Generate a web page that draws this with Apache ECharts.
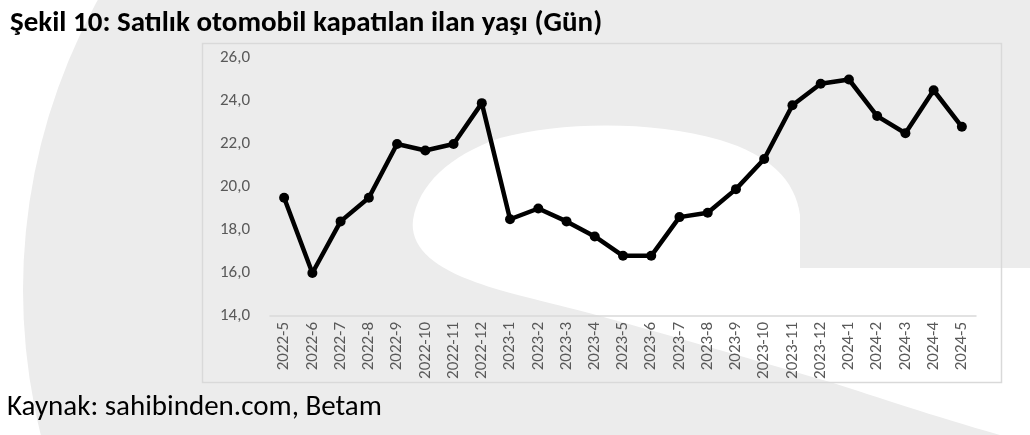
<!DOCTYPE html>
<html>
<head>
<meta charset="utf-8">
<script src="https://cdn.jsdelivr.net/npm/echarts@6/dist/echarts.min.js"></script>
<style>
html,body{margin:0;padding:0;background:#fff;}
#c{width:1030px;height:435px;}
</style>
</head>
<body>
<div id="c"></div>
<script>
var categories = ['2022-5','2022-6','2022-7','2022-8','2022-9','2022-10','2022-11','2022-12',
  '2023-1','2023-2','2023-3','2023-4','2023-5','2023-6','2023-7','2023-8','2023-9','2023-10','2023-11','2023-12',
  '2024-1','2024-2','2024-3','2024-4','2024-5'];
var values = [19.5,16.0,18.4,19.5,22.0,21.7,22.0,23.9,
  18.5,19.0,18.4,17.7,16.8,16.8,18.6,18.8,19.9,21.3,23.8,24.8,
  25.0,23.3,22.5,24.5,22.8];
var titleText = 'Şekil 10: Satılık otomobil kapatılan ilan yaşı (Gün)';
var sourceText = 'Kaynak: sahibinden.com, Betam';

// decorative watermark outline (sampled cubic curves)
function swooshPoints(){
  var segs = [
    [[1000,435],[930,415],[880,398],[830,382]],
    [[830,382],[720,350],[650,330],[600,316]],
    [[600,316],[540,300],[500,292],[470,280]],
    [[470,280],[430,265],[410,245],[413,220]],
    [[413,220],[418,185],[450,155],[500,138]],
    [[500,138],[560,122],[650,120],[720,140]],
    [[720,140],[770,155],[795,180],[800,215]]
  ];
  var pts = [[800,268],[1030,268],[1030,435]];
  segs.forEach(function(s){
    for(var i=0;i<=16;i++){
      var t=i/16, u=1-t;
      pts.push([
        u*u*u*s[0][0]+3*u*u*t*s[1][0]+3*u*t*t*s[2][0]+t*t*t*s[3][0],
        u*u*u*s[0][1]+3*u*u*t*s[1][1]+3*u*t*t*s[2][1]+t*t*t*s[3][1]
      ]);
    }
  });
  return pts;
}

var FONT = "Carlito, 'Liberation Sans Narrow', 'Open Sans', sans-serif";
var chart = echarts.init(document.getElementById('c'), null, {renderer:'canvas'});
chart.setOption({
  animation:false,
  backgroundColor:'#ffffff',
  graphic:[
    {type:'circle', z:-10, shape:{cx:623, cy:290, r:600}, style:{fill:'#ececec'}, silent:true},
    {type:'polygon', z:-9, silent:true, shape:{points:swooshPoints()}, style:{fill:'#ffffff'}},
    {type:'rect', z:-5, silent:true, shape:{x:202.5, y:43.5, width:799, height:339},
     style:{fill:'none', stroke:'#d9d9d9', lineWidth:1.5}},
    {type:'text', left:10, top:9, silent:true,
     style:{text:titleText, font:"bold 29px " + FONT, fill:'#000000'}},
    {type:'text', left:7, top:393, silent:true,
     style:{text:sourceText, font:"29px " + FONT, fill:'#000000'}}
  ],
  grid:{left:270, right:54, top:58, bottom:119, containLabel:false},
  xAxis:{
    type:'category', data:categories, boundaryGap:true,
    axisLine:{lineStyle:{color:'#d9d9d9', width:1.5}},
    axisTick:{show:false},
    axisLabel:{rotate:90, color:'#595959', fontSize:17, fontFamily:FONT, margin:6, interval:0}
  },
  yAxis:{
    type:'value', min:14, max:26, interval:2,
    axisLine:{show:false}, axisTick:{show:false}, splitLine:{show:false},
    axisLabel:{color:'#595959', fontSize:17, fontFamily:FONT, margin:20,
      formatter:function(v){return v.toFixed(1).replace('.', ',');}}
  },
  series:[{
    type:'line', data:values,
    lineStyle:{color:'#000000', width:4.5},
    itemStyle:{color:'#000000'},
    symbol:'circle', symbolSize:10,
    emphasis:{disabled:true}
  }]
});
</script>
</body>
</html>
